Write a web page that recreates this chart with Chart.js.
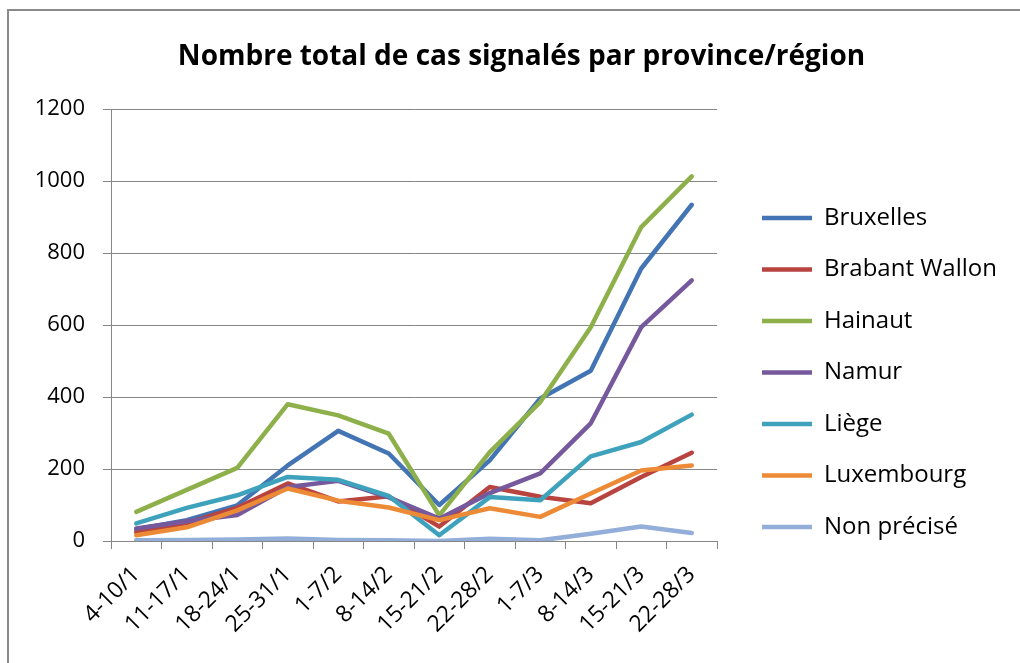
<!DOCTYPE html>
<html>
<head>
<meta charset="utf-8">
<title>Nombre total de cas signalés par province/région</title>
<script src="https://cdn.jsdelivr.net/npm/chart.js@4/dist/chart.umd.min.js"></script>
<style>
  body { margin: 0; background: #fff; }
  canvas { display: block; }
</style>
</head>
<body>
<canvas id="chart" width="1020" height="663"></canvas>
<script>
// weeks
const weeks = ['4-10/1', '11-17/1', '18-24/1', '25-31/1', '1-7/2', '8-14/2', '15-21/2',
               '22-28/2', '1-7/3', '8-14/3', '15-21/3', '22-28/3'];

// values
const bruxelles     = [33, 58, 99, 210, 306, 243, 100, 224, 396, 473, 757, 934];
const brabantWallon = [25, 50, 92, 160, 110, 124, 40, 150, 123, 105, 178, 245];
const hainaut       = [81, 142, 203, 380, 349, 298, 71, 247, 386, 594, 872, 1013];
const namur         = [35, 55, 72, 150, 167, 121, 62, 133, 188, 327, 594, 724];
const liege         = [49, 92, 127, 178, 170, 125, 16, 122, 113, 235, 275, 351];
const luxembourg    = [16, 38, 85, 146, 112, 93, 58, 91, 67, 132, 196, 210];
const nonPrecise    = [2, 3, 4, 7, 3, 2, 0, 6, 2, 20, 40, 22];

const seriesNames  = ['Bruxelles', 'Brabant Wallon', 'Hainaut', 'Namur', 'Liège', 'Luxembourg', 'Non précisé'];
const seriesValues = [bruxelles, brabantWallon, hainaut, namur, liege, luxembourg, nonPrecise];
const seriesColors = ['#4374b3', '#b8433f', '#8db04a', '#76599c', '#3fa2bd', '#ed8a36', '#93aed8'];

const yTicks = [0, 200, 400, 600, 800, 1000, 1200];

const FONT = '"Open Sans", Lato, sans-serif';
const GRID = '#868686';

// grey frame top/left, like the office chart border
const frame = {
    id: 'frame',
    beforeDraw(chart) {
        const ctx = chart.ctx;
        ctx.save();
        ctx.fillStyle = '#fff';
        ctx.fillRect(0, 0, chart.width, chart.height);
        ctx.fillStyle = '#8a8a8a';
        ctx.fillRect(7, 9, chart.width - 7, 2);
        ctx.fillRect(7, 9, 2, chart.height - 9);
        ctx.restore();
    }
};

// pull the legend in next to the plot and let it run to the right edge
const legendShift = {
    id: 'legendShift',
    afterLayout(chart) {
        const lg = chart.legend;
        lg.left = chart.chartArea.right + 17.5;
        lg.right = chart.width;
        lg.width = lg.right - lg.left;
    }
};

const datasets = seriesNames.map((name, i) => ({
    label: name,
    data: seriesValues[i],
    borderColor: seriesColors[i],
    backgroundColor: seriesColors[i],
    borderWidth: 4.5,
    borderJoinStyle: 'round',
    borderCapStyle: 'round',
    pointRadius: 0,
    pointHoverRadius: 0,
    tension: 0,
    order: seriesNames.length - i   // later series on top, like Excel
}));

new Chart(document.getElementById('chart'), {
    type: 'line',
    data: { labels: weeks, datasets: datasets },
    plugins: [frame, legendShift],
    options: {
        responsive: false,
        animation: false,
        devicePixelRatio: 1,
        layout: { padding: { left: 23, right: 0, top: 0, bottom: 0 } },
        scales: {
            x: {
                type: 'category',
                offset: true,
                grid: {
                    display: true,
                    drawOnChartArea: false,
                    drawTicks: true,
                    tickLength: 8,
                    offset: true,
                    color: GRID
                },
                border: { display: true, color: GRID, width: 1 },
                ticks: {
                    autoSkip: false,
                    maxRotation: 45,
                    minRotation: 45,
                    padding: 12,
                    color: '#000',
                    font: { family: FONT, size: 23 }
                },
                afterFit: s => { s.height = 122; }
            },
            y: {
                min: 0,
                max: 1200,
                afterBuildTicks: s => { s.ticks = yTicks.map(v => ({ value: v })); },
                grid: { color: GRID, tickLength: 8, lineWidth: 1 },
                border: { display: true, color: GRID, width: 1 },
                ticks: {
                    padding: 18,
                    color: '#000',
                    font: { family: FONT, size: 22 },
                    callback: v => String(v)
                },
                afterFit: s => { s.width = 88; }
            },
            gap: {
                // empty strip between plot and legend
                position: 'right',
                display: true,
                grid: { display: false },
                border: { display: false },
                ticks: { display: false },
                afterFit: s => { s.width = 103; }
            }
        },
        plugins: {
            title: {
                display: true,
                text: 'Nombre total de cas signalés par province/région',
                color: '#000',
                font: { family: FONT, size: 28, weight: 'bold' },
                padding: { top: 40, bottom: 35.4 }
            },
            legend: {
                display: true,
                position: 'right',
                align: 'center',
                maxWidth: 200,
                title: { display: true, text: ' ', font: { size: 10 }, padding: { top: 70, bottom: 0 } },
                labels: {
                    usePointStyle: true,
                    pointStyle: 'line',
                    pointStyleWidth: 50,
                    padding: 27.5,
                    color: '#000',
                    font: { family: FONT, size: 24 },
                    sort: (a, b) => a.datasetIndex - b.datasetIndex
                }
            },
            tooltip: { enabled: false }
        }
    }
});
</script>
</body>
</html>
